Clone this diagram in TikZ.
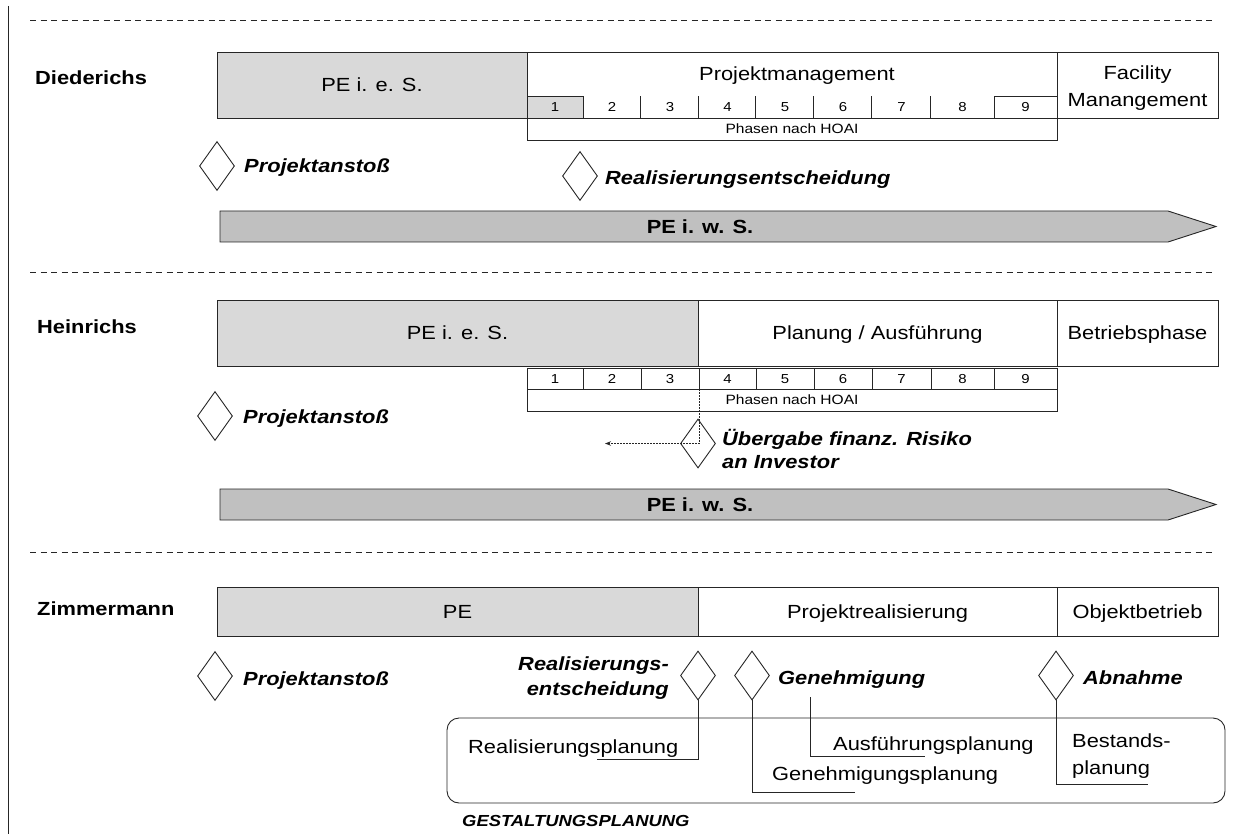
\documentclass[tikz,border=0pt]{standalone}
\usepackage{fontspec}
\setmainfont{Liberation Sans}[FakeStretch=1.15]
\usetikzlibrary{shapes.geometric,arrows.meta}
\definecolor{peGray}{HTML}{D9D9D9}
\definecolor{arrGray}{HTML}{C0C0C0}
\definecolor{lineGray}{HTML}{262626}

\begin{document}
\begin{tikzpicture}[x=1pt,y=-1pt,
  ln/.style={draw=lineGray,line width=0.9pt},
  bx/.style={ln,inner sep=0pt,font=\fontsize{19}{23}\selectfont,text height=13.6pt,text depth=0pt},
  pebx/.style={bx,fill=peGray},
  cellt/.style={inner sep=0pt,font=\fontsize{13}{15}\selectfont,text height=9.3pt,text depth=0pt},
  cgray/.style={ln,fill=peGray},
  cplain/.style={},
  cframe/.style={ln},
  phrow/.style={ln,inner sep=0pt,font=\fontsize{13.5}{15}\selectfont,text height=9.7pt,text depth=0pt,minimum width=530pt,minimum height=22pt},
  ms/.style={diamond,ln,inner sep=0pt,minimum width=35pt,minimum height=49pt},
  lab/.style={inner sep=0pt,font=\fontsize{19}{23}\selectfont\bfseries},
  mslab/.style={inner sep=0pt,font=\fontsize{19}{23}\selectfont\bfseries\itshape},
  txt/.style={inner sep=0pt,font=\fontsize{19}{27}\selectfont},
  sep/.style={draw=lineGray,line width=0.9pt,dash pattern=on 6pt off 4.5pt},
  arr/.style={ln,fill=arrGray},
  dotl/.style={draw=lineGray,line width=0.9pt,dash pattern=on 1.3pt off 1.7pt},
]
\useasboundingbox (0,0) rectangle (1252,834);

% frame line and section separators
\draw[ln] (8,6) -- (8,834);
\draw[sep] (30,20) -- (1215,20);
\draw[sep] (30,272) -- (1215,272);
\draw[sep] (30,552) -- (1215,552);

% ---------- Diederichs ----------
\node[lab,anchor=base west] (d-name) at (35,84.5) {Diederichs};
\node[pebx,minimum width=310pt,minimum height=66pt] (d-pe) at (372,85) {PE i. e. S.};
\node[bx,minimum width=530pt,minimum height=66pt] (d-pm) at (792,85) {};
\node[txt,anchor=base] (d-pmt) at (797,81) {Projektmanagement};
\node[bx,minimum width=161pt,minimum height=66pt] (d-fm) at (1137.5,85) {};
\node[txt,align=center] (d-fmt) at (1137.5,88) {Facility\\Manangement};

\foreach \a/\b/\s [count=\i] in {527/583/cgray,583/641/cplain,641/699/cplain,699/756/cplain,756/814/cplain,814/872/cplain,872/931/cplain,931/994/cplain,994/1057/cframe}
  \node[cellt,\s,minimum width={\b-\a},minimum height=21.3pt] (d-c\i) at ({(\a+\b)/2},107.35) {\i};
\foreach \i in {3,...,8}
  \draw[ln] (d-c\i.north west) -- (d-c\i.south west);
\node[phrow] (d-ph) at (792,129) {Phasen nach HOAI};

\node[ms] (d-m1) at (217,166) {};
\node[mslab,anchor=base west] (d-m1t) at (244,173) {Projektanstoß};
\node[ms] (d-m2) at (580,176) {};
\node[mslab,anchor=base west] (d-m2t) at (605,185) {Realisierungsentscheidung};

\draw[arr] (220,211) -- (1168,211) -- (1216,226.5) -- (1168,242) -- (220,242) -- cycle;
\node[lab] (d-we) at (700,226.5) {PE i. w. S.};

% ---------- Heinrichs ----------
\node[lab,anchor=base west] (h-name) at (37,333) {Heinrichs};
\node[pebx,minimum width=481pt,minimum height=66pt] (h-pe) at (457.5,333) {PE i. e. S.};
\node[bx,minimum width=359pt,minimum height=66pt] (h-pa) at (877.5,333) {Planung / Ausführung};
\node[bx,minimum width=161pt,minimum height=66pt] (h-bp) at (1137.5,333) {Betriebsphase};

\foreach \a/\b [count=\i] in {527/583,583/641,641/699,699/756,756/814,814/872,872/931,931/994,994/1057}
  \node[cellt,ln,minimum width={\b-\a},minimum height=21pt] (h-c\i) at ({(\a+\b)/2},378.5) {\i};
\node[phrow] (h-ph) at (792,400) {Phasen nach HOAI};

\node[ms] (h-m1) at (215,416) {};
\node[mslab,anchor=base west] (h-m1t) at (243,423) {Projektanstoß};
\node[ms] (h-m2) at (698,443.5) {};
\node[mslab,align=left,anchor=west] (h-m2t) at (722,448.5) {Übergabe finanz. Risiko\\an Investor};
\coordinate (h-tip) at (605,443.5);
\draw[dotl,-{Stealth[length=6pt,width=4.5pt]}] (h-c3.south east) |- (h-tip);

\draw[arr] (220,489) -- (1168,489) -- (1216,504.5) -- (1168,520) -- (220,520) -- cycle;
\node[lab] (h-we) at (700,504.5) {PE i. w. S.};

% ---------- Zimmermann ----------
\node[lab,anchor=base west] (z-name) at (37,615) {Zimmermann};
\node[pebx,minimum width=481pt,minimum height=49pt] (z-pe) at (457.5,611.5) {PE};
\node[bx,minimum width=359pt,minimum height=49pt] (z-pr) at (877.5,611.5) {Projektrealisierung};
\node[bx,minimum width=161pt,minimum height=49pt] (z-ob) at (1137.5,611.5) {Objektbetrieb};

\node[ms] (z-m1) at (215,676) {};
\node[mslab,anchor=base west] (z-m1t) at (243,685) {Projektanstoß};
\node[ms] (z-m2) at (698,675.5) {};
\node[mslab,font=\fontsize{19}{25}\selectfont\bfseries\itshape,align=right,anchor=east] (z-m2t) at (669,678.5) {Realisierungs-\\entscheidung};
\node[ms] (z-m3) at (752,675.5) {};
\node[mslab,anchor=base west] (z-m3t) at (778,684) {Genehmigung};
\node[ms] (z-m4) at (1056,675.5) {};
\node[mslab,anchor=base west] (z-m4t) at (1083,684) {Abnahme};

\node[ln,rounded corners=12pt,minimum width=778pt,minimum height=85pt,inner sep=0pt] (z-gp) at (836,760.5) {};
\node[inner sep=0pt,font=\fontsize{16}{18}\selectfont\bfseries\itshape,anchor=base west] (z-gpt) at (462,826) {GESTALTUNGSPLANUNG};

\node[txt,anchor=base west] (z-rp) at (468,753) {Realisierungsplanung};
\node[txt,anchor=base west] (z-ap) at (833,750) {Ausführungsplanung};
\node[txt,anchor=base west] (z-gpl) at (772,780) {Genehmigungsplanung};
\node[txt,align=left,anchor=west] (z-bp) at (1072,756.5) {Bestands-\\planung};

\coordinate (z-e1) at (597,759);
\draw[ln] (z-m2.south) |- (z-e1);
\coordinate (z-e2) at (855,792);
\draw[ln] (z-m3.south) |- (z-e2);
\coordinate (z-a1) at (810,697);
\coordinate (z-a2) at (925,756);
\draw[ln] (z-a1) |- (z-a2);
\coordinate (z-e4) at (1148,784);
\draw[ln] (z-m4.south) |- (z-e4);
\end{tikzpicture}
\end{document}
